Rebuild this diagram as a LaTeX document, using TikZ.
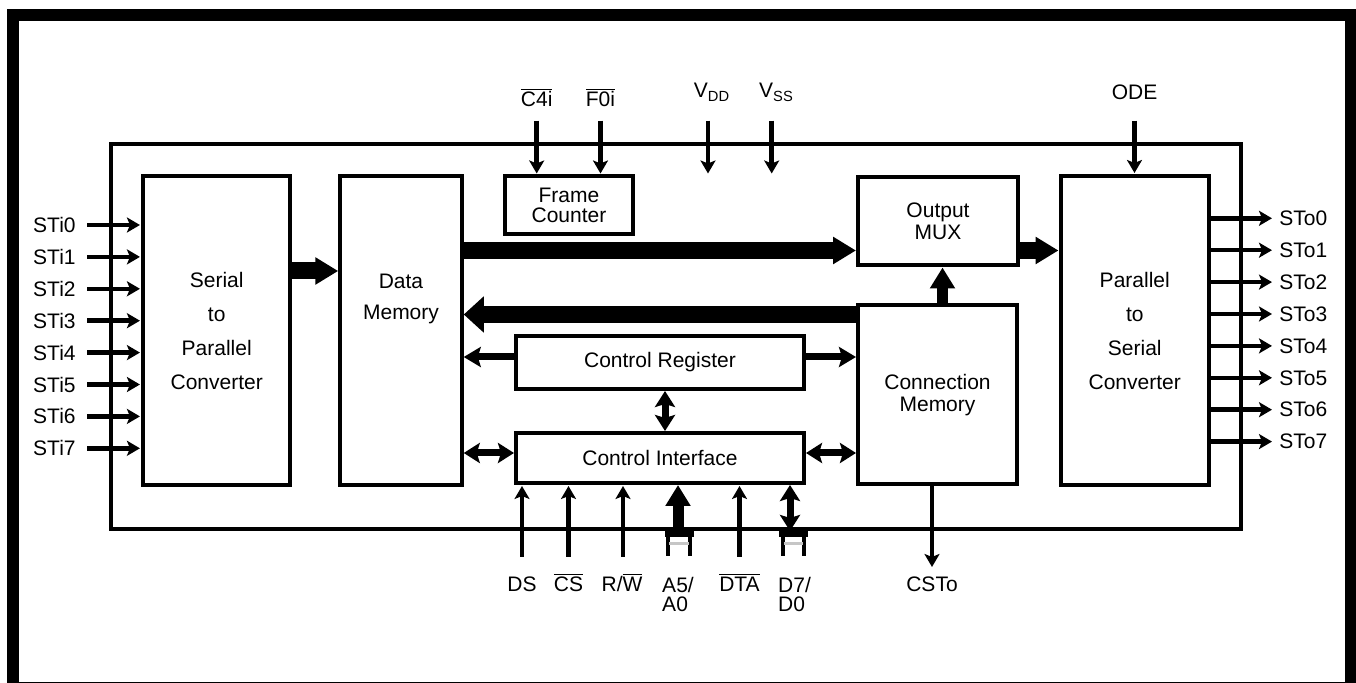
\documentclass[tikz,border=0pt]{standalone}
\usepackage{fontspec}
\setmainfont{Liberation Sans}
\usetikzlibrary{arrows.meta, positioning}

\newcommand{\pinbar}[1]{$\overline{\hbox{#1}}$}

\tikzset{
	block/.style={draw, line width=2pt, inner sep=0pt, align=center},
	sig/.style={line width=2.25pt, shorten >=0.5pt, -{Stealth[length=6.5pt, width=7.5pt, inset=1.5pt]}},
	link/.style={line width=3.5pt, -{Stealth[length=8.5pt, width=10pt, inset=1.5pt]}},
	dlink/.style={line width=3.5pt, {Stealth[length=8pt, width=10pt, inset=1.5pt]}-{Stealth[length=8pt, width=10pt, inset=1.5pt]}},
	bus/.style={line width=8.5pt, -{Triangle[length=11.5pt, width=13pt]}},
	bigbus/.style={line width=8.5pt, -{Triangle[length=10pt, width=17.5pt]}},
	upbus/.style={line width=5.5pt, -{Triangle[length=10.5pt, width=12pt]}},
	pinlabel/.style={anchor=base, inner sep=0pt},
}

\begin{document}
\begin{tikzpicture}[x=0.5pt, y=-0.5pt, font=\fontsize{10.5}{12}\selectfont]
	\useasboundingbox (0,0) rectangle (1356,683);
	\draw[line width=6pt] (13.3,683) |- (1350.5,15.2) -- (1350.5,683);
	\draw[line width=0.5pt] (7,682.5) -- (1356,682.5);
	\draw[line width=2pt] (110.5,144) rectangle (1240.5,529);

	\node[block, minimum width=73.75pt, minimum height=154.5pt, font=\fontsize{10.5}{17}\selectfont] (s2p) at (216.7,330.5) {Serial\\to\\Parallel\\Converter};
	\node[block, minimum width=60.75pt, minimum height=154.5pt] (dmem) at (401,330.5) {};
	\node[align=center, font=\fontsize{10.5}{15.5}\selectfont] (dmemtxt) at (401,299) {Data\\Memory};
	\node[block, minimum width=64pt, minimum height=28.75pt, font=\fontsize{10.5}{10}\selectfont] (fcnt) at (569,205.25) {Frame\\Counter};
	\node[block, minimum width=80pt, minimum height=44.25pt, font=\fontsize{10.5}{11}\selectfont] (omux) at (938,221.25) {Output\\MUX};
	\node[block, minimum width=74.25pt, minimum height=154.5pt, font=\fontsize{10.5}{17}\selectfont] (p2s) at (1134.75,330.5) {Parallel\\to\\Serial\\Converter};
	\node[block, minimum width=79.5pt, minimum height=89.75pt, font=\fontsize{10.5}{11}\selectfont] (cmem) at (937.5,394.75) {Connection\\Memory};
	\node[block, minimum width=144pt, minimum height=26.5pt] (creg) at (660,362.5) {Control Register};
	\node[block, minimum width=144pt, minimum height=25pt] (cif) at (660,458) {Control Interface};

	\draw[bus] (s2p.east |- 0,271) -- (dmem.west |- 0,271);
	\draw[bus] (dmem.east |- 0,250.5) -- (omux.west |- 0,250.5);
	\draw[bus] (omux.east |- 0,250.5) -- (p2s.west |- 0,250.5);
	\draw[bigbus] (cmem.west |- 0,314.5) -- (dmem.east |- 0,314.5);
	\draw[upbus] (cmem.north -| 942.5,0) -- (omux.south -| 942.5,0);

	\draw[link] (creg.west |- 0,357) -- (dmem.east |- 0,357);
	\draw[link] (creg.east |- 0,357) -- (cmem.west |- 0,357);
	\draw[dlink] (creg.south -| 665,0) -- (cif.north -| 665,0);
	\draw[dlink] (dmem.east |- 0,453) -- (cif.west |- 0,453);
	\draw[dlink] (cif.east |- 0,453) -- (cmem.west |- 0,453);

	\foreach \i in {0,...,7} {
		\node[anchor=east, inner xsep=5.5pt, inner ysep=0pt] (sti\i) at (87,225+31.9*\i) {STi\i};
		\draw[sig] (sti\i.east) -- (s2p.west |- sti\i.east);
		\node[anchor=west, inner xsep=3pt, inner ysep=0pt] (sto\i) at (1273,218.3+31.9*\i) {STo\i};
		\draw[sig] (p2s.east |- sto\i.west) -- (sto\i.west);
	}

	\coordinate (c4ipin) at (536.7,120.7);
	\coordinate (f0ipin) at (600.5,120.7);
	\coordinate (vddpin) at (708,120.7);
	\coordinate (vsspin) at (771.7,120.7);
	\coordinate (odepin) at (1134.5,120.7);
	\node[pinlabel] (c4i) at ([yshift=6.85pt]c4ipin) {\pinbar{C4i}};
	\node[pinlabel] (f0i) at ([yshift=6.85pt]f0ipin) {\pinbar{F0i}};
	\node[pinlabel] (vdd) at ([xshift=2pt, yshift=11.35pt]vddpin) {V\textsubscript{DD}};
	\node[pinlabel] (vss) at ([xshift=2.4pt, yshift=11.35pt]vsspin) {V\textsubscript{SS}};
	\node[pinlabel] (ode) at ([yshift=10.35pt]odepin) {ODE};
	\draw[sig] (c4ipin) -- (c4ipin |- fcnt.north);
	\draw[sig] (f0ipin) -- (f0ipin |- fcnt.north);
	\draw[sig] (vddpin) -- (vddpin |- fcnt.north);
	\draw[sig] (vsspin) -- (vsspin |- fcnt.north);
	\draw[sig] (odepin) -- (odepin |- p2s.north);

	\foreach \bx in {679,793.3} {
		\fill (\bx-14.5,527.5) rectangle (\bx+14.5,537);
		\draw[line width=2pt] (\bx-10.8,537) -- (\bx-10.8,556) (\bx+10.8,537) -- (\bx+10.8,556);
		\draw[gray!45, line width=1.5pt] (\bx-9.8,544) -- (\bx+9.8,544);
	}

	\coordinate (dspin) at (522,557);
	\coordinate (cspin) at (568.5,557);
	\coordinate (rwpin) at (623,557);
	\coordinate (a5pin) at (678,532);
	\coordinate (dtapin) at (739.5,557);
	\coordinate (d7pin) at (790,531);
	\coordinate (cstopin) at (932,568);
	\draw[sig] (dspin) -- (dspin |- cif.south);
	\draw[sig] (cspin) -- (cspin |- cif.south);
	\draw[sig] (rwpin) -- (rwpin |- cif.south);
	\draw[upbus] (a5pin) -- (a5pin |- cif.south);
	\draw[sig] (dtapin) -- (dtapin |- cif.south);
	\draw[dlink] (d7pin) -- (d7pin |- cif.south);
	\draw[sig] (cmem.south -| cstopin) -- (cstopin);

	\node[pinlabel] (ds) at ([yshift=-17.5pt]dspin) {DS};
	\node[pinlabel] (cs) at ([yshift=-17.5pt]cspin) {\pinbar{CS}};
	\node[pinlabel] (rw) at ([xshift=-0.5pt, yshift=-17.5pt]rwpin) {R/\pinbar{W}};
	\node[anchor=north, align=left, inner sep=0pt, font=\fontsize{10.5}{9.5}\selectfont] (a5) at ([yshift=-22.5pt]a5pin) {A5/\\A0};
	\node[pinlabel] (dta) at ([yshift=-17.5pt]dtapin) {\pinbar{DTA}};
	\node[anchor=north, align=left, inner sep=0pt, font=\fontsize{10.5}{9.5}\selectfont] (d7) at ([xshift=2.25pt, yshift=-23pt]d7pin) {D7/\\D0};
	\node[pinlabel] (csto) at ([yshift=-12pt]cstopin) {CSTo};
\end{tikzpicture}
\end{document}
